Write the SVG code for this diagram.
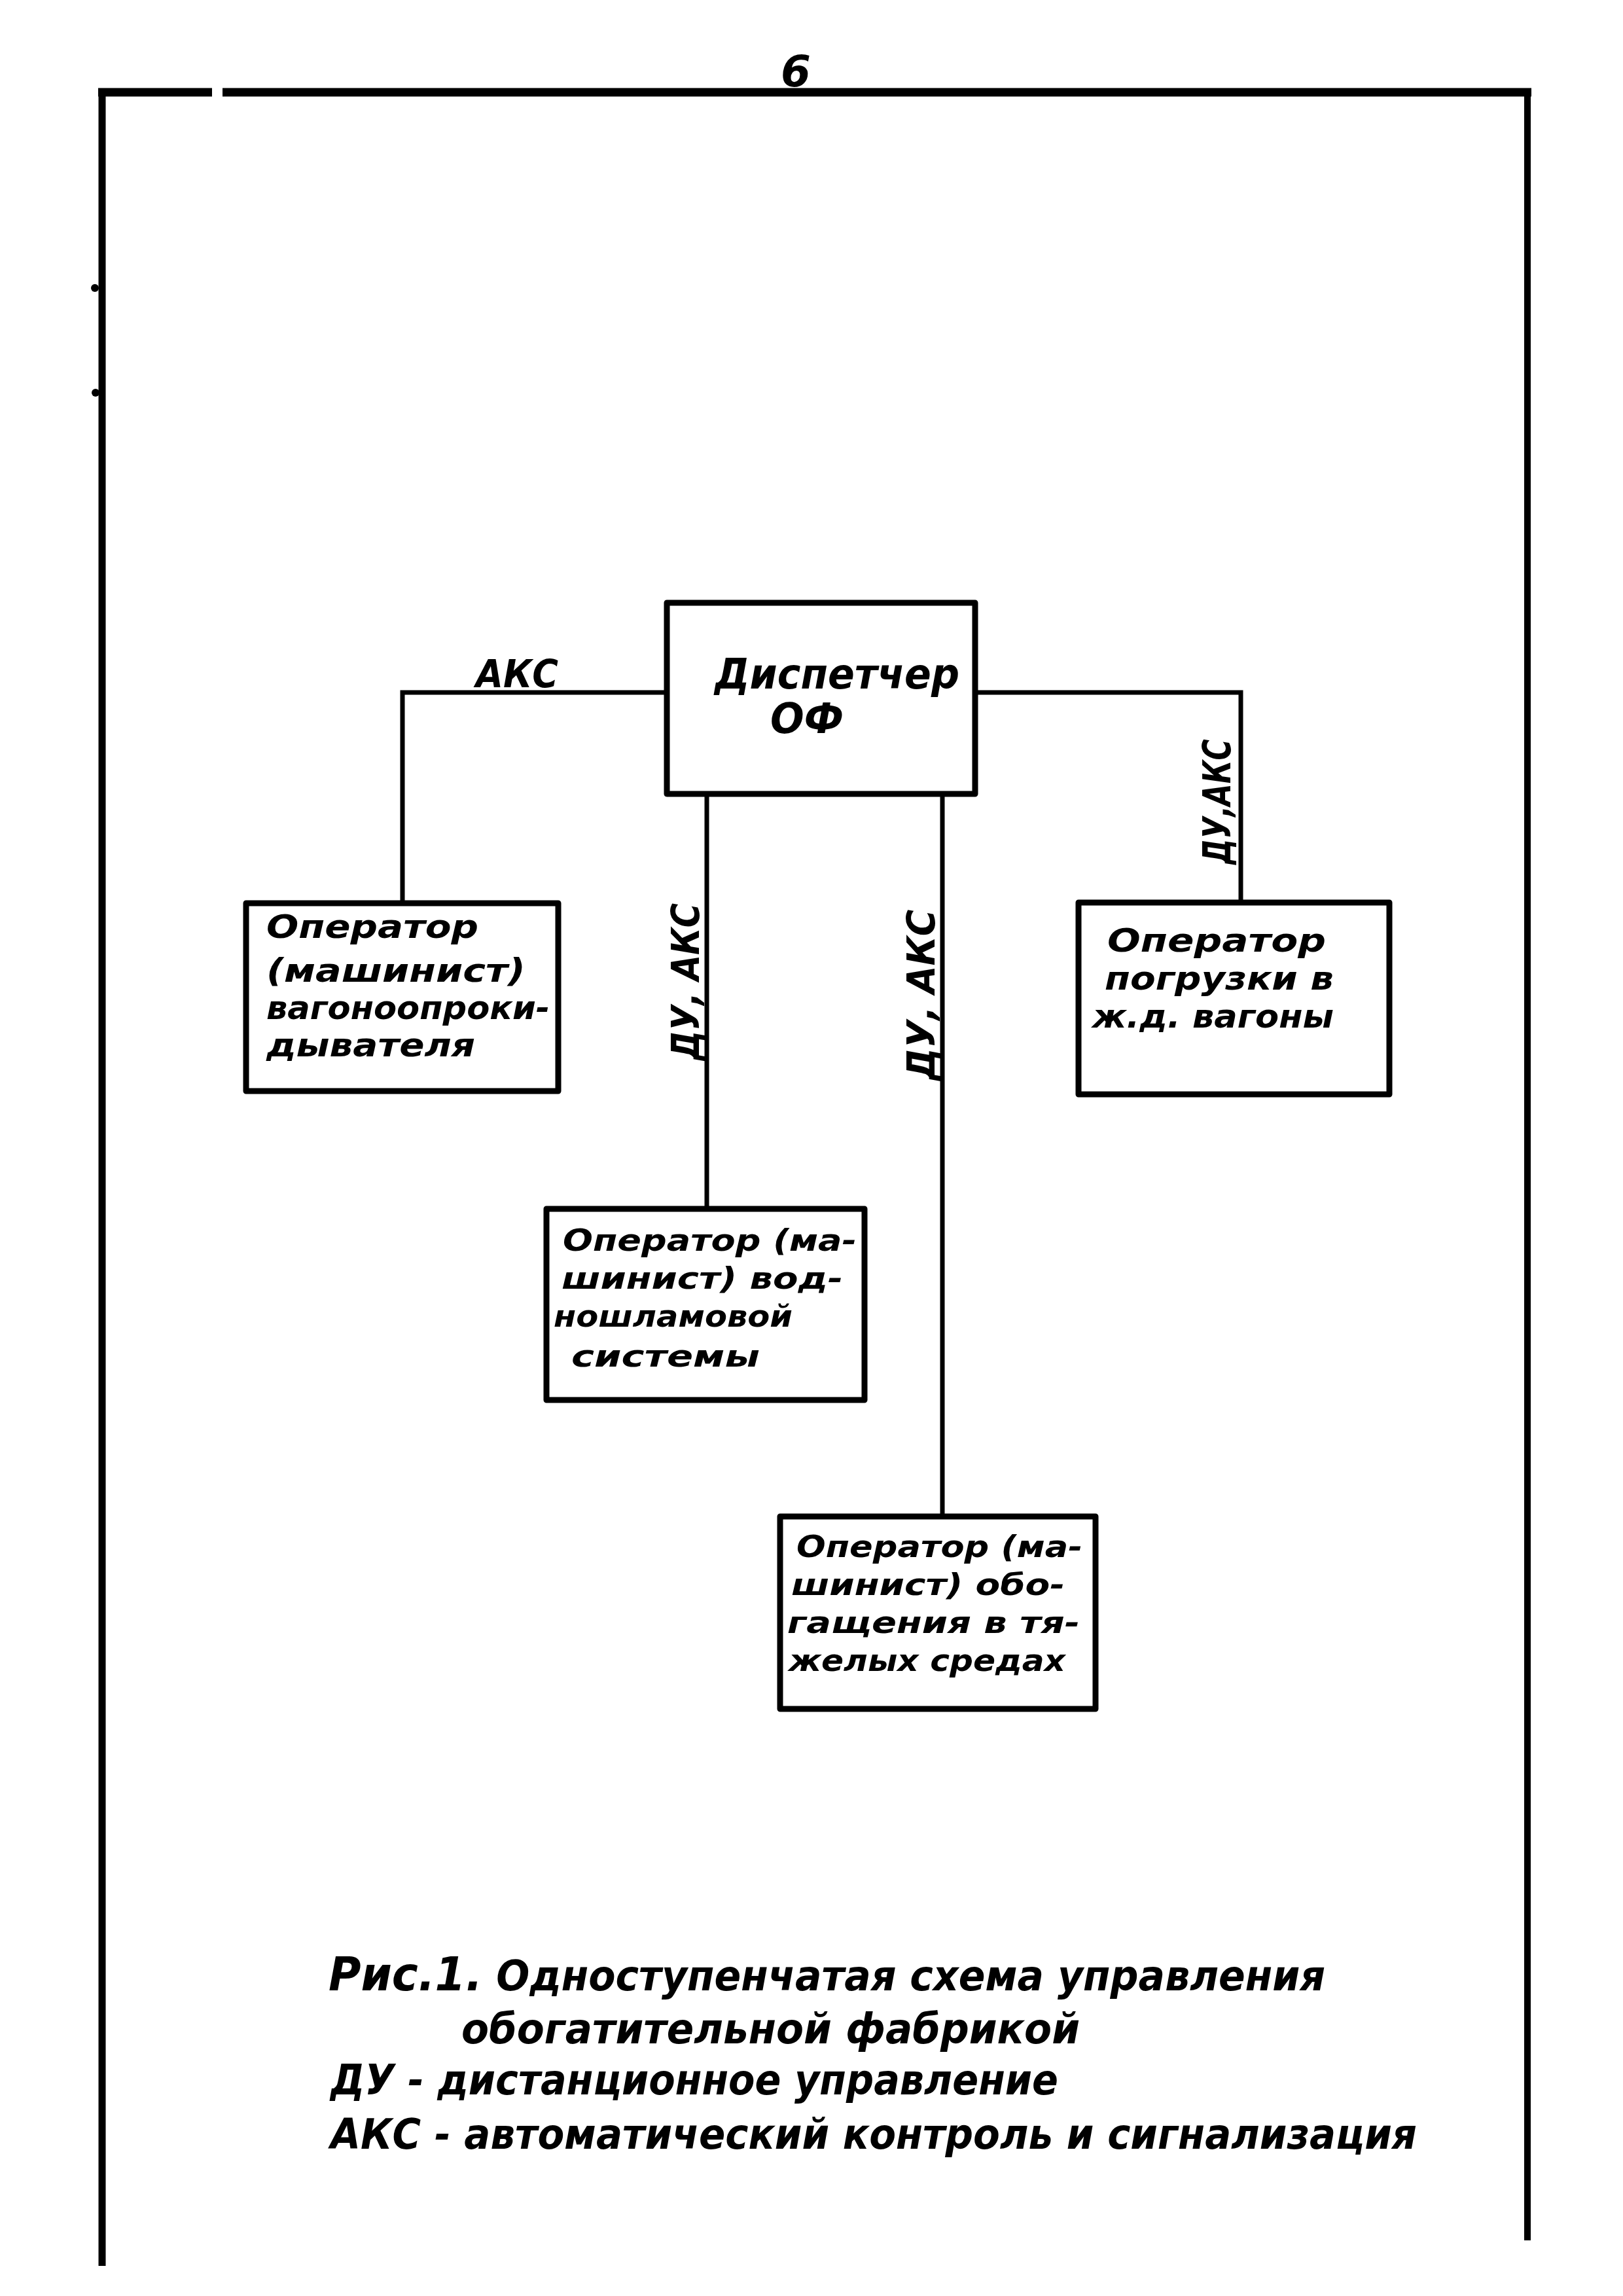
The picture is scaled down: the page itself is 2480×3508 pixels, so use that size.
<svg xmlns="http://www.w3.org/2000/svg" width="2480" height="3508" viewBox="0 0 2480 3508">
<style>
.t{font-family:"DejaVu Sans","Liberation Sans",sans-serif;font-style:oblique;font-weight:bold;fill:#000}
.box{fill:none;stroke:#000;stroke-width:9;stroke-linejoin:round}
.frame{stroke:#000;fill:none;stroke-linecap:butt}
.con{fill:none;stroke:#000;stroke-width:7;stroke-linejoin:miter}
.bt{font-size:50px}
.bs{font-size:47px}
.lab{font-size:58px}
.cap{font-size:64px}
</style>
<rect width="2480" height="3508" fill="#fff"/>
<g id="frame">
<line class="frame" x1="150" y1="141" x2="324" y2="141" stroke-width="13"/>
<line class="frame" x1="340" y1="141" x2="2340" y2="141" stroke-width="13"/>
<line class="frame" x1="156" y1="135" x2="156" y2="3462" stroke-width="11"/>
<line class="frame" x1="2334" y1="135" x2="2334" y2="3423" stroke-width="10"/>
<circle cx="145" cy="440" r="6" fill="#000"/>
<circle cx="146" cy="600" r="6" fill="#000"/>
<text class="t" x="1216" y="132" font-size="66" text-anchor="middle" font-style="italic">6</text>
</g>
<g id="connectors">
<path class="con" d="M1019,1058 H615 V1380" stroke-width="9"/>
<path class="con" d="M1490,1058 H1896 V1379" stroke-width="9"/>
<path class="con" d="M1080,1213 V1847"/>
<path class="con" d="M1440,1213 V2317"/>
<text class="t lab" x="727" y="1050" textLength="126" lengthAdjust="spacingAndGlyphs">АКС</text>
<text class="t lab" transform="translate(1068,1500) rotate(-90)" text-anchor="middle" textLength="240" lengthAdjust="spacingAndGlyphs">ДУ, АКС</text>
<text class="t lab" transform="translate(1428,1520) rotate(-90)" text-anchor="middle" textLength="261" lengthAdjust="spacingAndGlyphs">ДУ, АКС</text>
<text class="t lab" transform="translate(1880,1225) rotate(-90)" text-anchor="middle" textLength="191" lengthAdjust="spacingAndGlyphs">ДУ,АКС</text>
</g>
<g id="dispatcher">
<rect class="box" x="1019" y="921" width="471" height="292" stroke-width="11"/>
<text class="t" x="1092" y="1052" font-size="64" textLength="374" lengthAdjust="spacingAndGlyphs">Диспетчер</text>
<text class="t" x="1177" y="1120" font-size="64" textLength="112" lengthAdjust="spacingAndGlyphs">ОФ</text>
</g>
<g id="op-wagon-tipper">
<rect class="box" x="376" y="1380" width="477" height="287"/>
<text class="t bt" x="407" y="1433" textLength="324" lengthAdjust="spacingAndGlyphs">Оператор</text>
<text class="t bt" x="407" y="1500" textLength="396" lengthAdjust="spacingAndGlyphs">(машинист)</text>
<text class="t bt" x="407" y="1557" textLength="433" lengthAdjust="spacingAndGlyphs">вагоноопроки-</text>
<text class="t bt" x="407" y="1614" textLength="319" lengthAdjust="spacingAndGlyphs">дывателя</text>
</g>
<g id="op-loading">
<rect class="box" x="1648" y="1379" width="475" height="293"/>
<text class="t bt" x="1692" y="1454" textLength="334" lengthAdjust="spacingAndGlyphs">Оператор</text>
<text class="t bt" x="1688" y="1512" textLength="350" lengthAdjust="spacingAndGlyphs">погрузки в</text>
<text class="t bt" x="1669" y="1570" textLength="369" lengthAdjust="spacingAndGlyphs">ж.д. вагоны</text>
</g>
<g id="op-water-slime">
<rect class="box" x="835" y="1847" width="486" height="292"/>
<text class="t bs" x="860" y="1911" textLength="449" lengthAdjust="spacingAndGlyphs">Оператор (ма-</text>
<text class="t bs" x="858" y="1969" textLength="430" lengthAdjust="spacingAndGlyphs">шинист) вод-</text>
<text class="t bs" x="846" y="2027" textLength="365" lengthAdjust="spacingAndGlyphs">ношламовой</text>
<text class="t bs" x="873" y="2088" textLength="288" lengthAdjust="spacingAndGlyphs">системы</text>
</g>
<g id="op-heavy-media">
<rect class="box" x="1192" y="2317" width="482" height="294"/>
<text class="t bs" x="1217" y="2379" textLength="437" lengthAdjust="spacingAndGlyphs">Оператор (ма-</text>
<text class="t bs" x="1209" y="2437" textLength="418" lengthAdjust="spacingAndGlyphs">шинист) обо-</text>
<text class="t bs" x="1203" y="2495" textLength="447" lengthAdjust="spacingAndGlyphs">гащения в тя-</text>
<text class="t bs" x="1205" y="2553" textLength="423" lengthAdjust="spacingAndGlyphs">желых средах</text>
</g>
<g id="caption">
<text class="t cap" x="502" y="3041" textLength="1523" lengthAdjust="spacingAndGlyphs"><tspan font-size="72">Рис.1.</tspan> Одноступенчатая схема управления</text>
<text class="t cap" x="705" y="3122" textLength="945" lengthAdjust="spacingAndGlyphs">обогатительной фабрикой</text>
<text class="t cap" x="505" y="3200" textLength="1112" lengthAdjust="spacingAndGlyphs">ДУ - дистанционное управление</text>
<text class="t cap" x="505" y="3283" textLength="1660" lengthAdjust="spacingAndGlyphs">АКС - автоматический контроль и сигнализация</text>
</g>
</svg>
